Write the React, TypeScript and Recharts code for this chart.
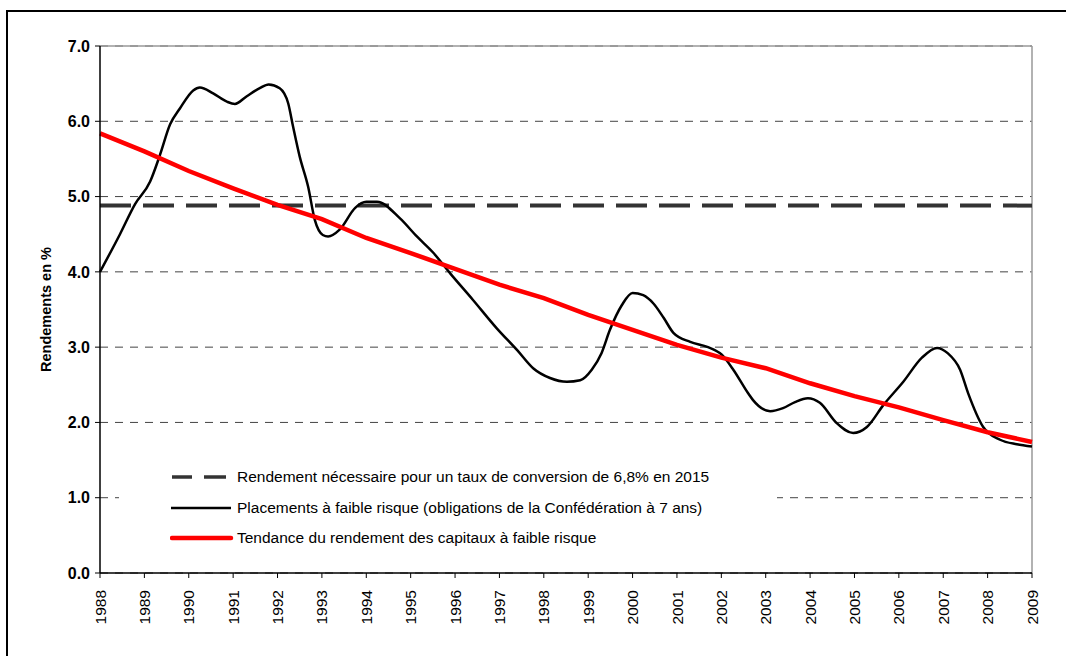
import { CartesianGrid, Legend, Line, LineChart, ReferenceLine, XAxis, YAxis } from "recharts";

const FONT = "'Liberation Sans', Arial, sans-serif";

const yearTicks = [
  1988, 1989, 1990, 1991, 1992, 1993, 1994, 1995, 1996, 1997, 1998,
  1999, 2000, 2001, 2002, 2003, 2004, 2005, 2006, 2007, 2008, 2009,
];
const yieldTicks = [0, 1, 2, 3, 4, 5, 6, 7];

// Placements à faible risque (obligations de la Confédération à 7 ans)
const bondYears = [
  1988.0, 1988.45, 1988.79, 1989.13, 1989.35, 1989.58, 1989.8, 1990.1, 1990.25, 1990.55,
  1990.86, 1991.04, 1991.3, 1991.6, 1991.8, 1992.05, 1992.24, 1992.35, 1992.5, 1992.69,
  1992.84, 1993.02, 1993.14, 1993.4, 1993.75, 1994.0, 1994.24, 1994.76, 1995.14, 1995.5,
  1995.89, 1996.4, 1996.94, 1997.4, 1997.76, 1998.14, 1998.52, 1998.82, 1999.08, 1999.3,
  1999.49, 1999.76, 2000.0, 2000.24, 2000.47, 2000.7, 2000.92, 2001.3, 2001.7, 2002.01,
  2002.27, 2002.6, 2002.71, 2003.1, 2003.39, 2003.66, 2003.95, 2004.22, 2004.6, 2004.97,
  2005.28, 2005.65, 2006.1, 2006.52, 2006.86, 2007.1, 2007.38, 2007.56, 2007.9, 2008.28,
  2008.66, 2009.0,
];
const bondYields = [
  4.0, 4.5, 4.9, 5.2, 5.55, 5.96, 6.17, 6.41, 6.45, 6.37,
  6.26, 6.23, 6.33, 6.44, 6.49, 6.44, 6.24, 5.93, 5.53, 5.13,
  4.69, 4.49, 4.47, 4.56, 4.85, 4.93, 4.93, 4.71, 4.47, 4.26,
  3.98, 3.63, 3.25, 2.96, 2.72, 2.59, 2.54, 2.56, 2.7, 2.92,
  3.23, 3.56, 3.72, 3.69, 3.58, 3.39, 3.19, 3.07, 3.0, 2.9,
  2.7, 2.39, 2.3, 2.15, 2.19, 2.27, 2.32, 2.26, 1.99, 1.86,
  1.94, 2.23, 2.54, 2.86, 2.99, 2.92, 2.7, 2.39, 1.94, 1.77,
  1.71, 1.68,
];

// Tendance du rendement des capitaux à faible risque
const trendYields = [
  5.84, 5.6, 5.34, 5.11, 4.89, 4.7, 4.45, 4.25, 4.04, 3.83, 3.65,
  3.43, 3.23, 3.03, 2.86, 2.72, 2.52, 2.35, 2.2, 2.03, 1.87, 1.74,
];

// Rendement nécessaire pour un taux de conversion de 6,8% en 2015
const requiredYears = [1988, 2009];
const requiredYields = [4.88, 4.88];

const bondData = bondYears.map((x, i) => ({ x, y: bondYields[i] }));
const trendData = yearTicks.map((x, i) => ({ x, y: trendYields[i] }));
const requiredData = requiredYears.map((x, i) => ({ x, y: requiredYields[i] }));

const legendItems = [
  { label: "Rendement nécessaire pour un taux de conversion de 6,8% en 2015", kind: "dash" },
  { label: "Placements à faible risque (obligations de la Confédération à 7 ans)", kind: "black" },
  { label: "Tendance du rendement des capitaux à faible risque", kind: "red" },
];

function Symbol({ kind }: { kind: string }) {
  return (
    <svg width={64} height={10} style={{ display: "block" }}>
      {kind === "dash" && (
        <>
          <line x1={2} y1={5} x2={22} y2={5} stroke="#333" strokeWidth={3.5} />
          <line x1={34} y1={5} x2={56} y2={5} stroke="#333" strokeWidth={3.5} />
        </>
      )}
      {kind === "black" && <line x1={1} y1={5} x2={61} y2={5} stroke="#000" strokeWidth={2.5} />}
      {kind === "red" && (
        <line x1={2} y1={5} x2={61} y2={5} stroke="#ff0000" strokeWidth={4.5} strokeLinecap="round" />
      )}
    </svg>
  );
}

function LegendBox() {
  return (
    <div style={{ paddingTop: 7, paddingLeft: 51 }}>
      {legendItems.map((item) => (
        <div
          key={item.kind}
          style={{ display: "flex", alignItems: "center", height: 30.5, fontFamily: FONT, fontSize: 15.5, color: "#000" }}
        >
          <Symbol kind={item.kind} />
          <span style={{ marginLeft: 3, whiteSpace: "nowrap" }}>{item.label}</span>
        </div>
      ))}
    </div>
  );
}

// eslint-disable-next-line @typescript-eslint/no-explicit-any
function YearTick({ x, y, payload }: any) {
  const ty = y + 5;
  return (
    <text
      x={x}
      y={ty}
      transform={`rotate(-90 ${x} ${ty})`}
      textAnchor="end"
      dy="0.36em"
      fontFamily={FONT}
      fontSize={15.5}
      fill="#000"
    >
      {payload.value}
    </text>
  );
}

// eslint-disable-next-line @typescript-eslint/no-explicit-any
function AxisTitle({ viewBox }: any) {
  const cx = viewBox.x + 11;
  const cy = viewBox.y + viewBox.height / 2;
  return (
    <text
      x={cx}
      y={cy}
      transform={`rotate(-90 ${cx} ${cy})`}
      textAnchor="middle"
      fontFamily={FONT}
      fontSize={14.5}
      fontWeight="bold"
      fill="#000"
    >
      Rendements en %
    </text>
  );
}

export default function App() {
  return (
    <div style={{ position: "fixed", left: 0, top: 0, width: 1066, height: 656, overflow: "hidden", background: "#fff" }}>
      <div
        style={{
          position: "absolute",
          left: 6,
          top: 10,
          width: 1200,
          height: 800,
          borderTop: "2px solid #000",
          borderLeft: "2px solid #000",
        }}
      />
      <div style={{ position: "absolute", left: 0, top: 0 }}>
        <LineChart width={1066} height={656} margin={{ top: 46, right: 34, bottom: 23, left: 40 }}>
          <CartesianGrid vertical={false} stroke="#444" strokeDasharray="8 7" />
          <XAxis
            type="number"
            dataKey="x"
            domain={[1988, 2009]}
            ticks={yearTicks}
            interval={0}
            height={60}
            tickSize={5}
            tickMargin={7}
            tick={<YearTick />}
            axisLine={{ stroke: "#000", strokeWidth: 1.5 }}
            tickLine={{ stroke: "#000" }}
          />
          <YAxis
            type="number"
            domain={[0, 7]}
            ticks={yieldTicks}
            width={60}
            tickSize={5}
            tickMargin={5}
            tickFormatter={(v: number) => v.toFixed(1)}
            tick={{ fill: "#000", fontSize: 16, fontWeight: "bold", fontFamily: FONT }}
            axisLine={{ stroke: "#000", strokeWidth: 1.5 }}
            tickLine={{ stroke: "#000" }}
            label={{ content: <AxisTitle /> }}
          />
          <ReferenceLine y={7} stroke="#999" strokeWidth={1.5} />
          <ReferenceLine x={2009} stroke="#999" strokeWidth={1.5} />
          <Legend
            layout="vertical"
            align="center"
            verticalAlign="middle"
            content={<LegendBox />}
            wrapperStyle={{ left: 119, top: 455, width: 658, height: 86, background: "#fff" }}
          />
          <Line
            data={requiredData}
            dataKey="y"
            type="linear"
            stroke="#333"
            strokeWidth={4}
            strokeDasharray="31 12"
            dot={false}
            activeDot={false}
            isAnimationActive={false}
          />
          <Line
            data={bondData}
            dataKey="y"
            type="monotone"
            stroke="#000"
            strokeWidth={2.5}
            dot={false}
            activeDot={false}
            isAnimationActive={false}
          />
          <Line
            data={trendData}
            dataKey="y"
            type="linear"
            stroke="#ff0000"
            strokeWidth={4.5}
            dot={false}
            activeDot={false}
            isAnimationActive={false}
          />
        </LineChart>
      </div>
    </div>
  );
}
